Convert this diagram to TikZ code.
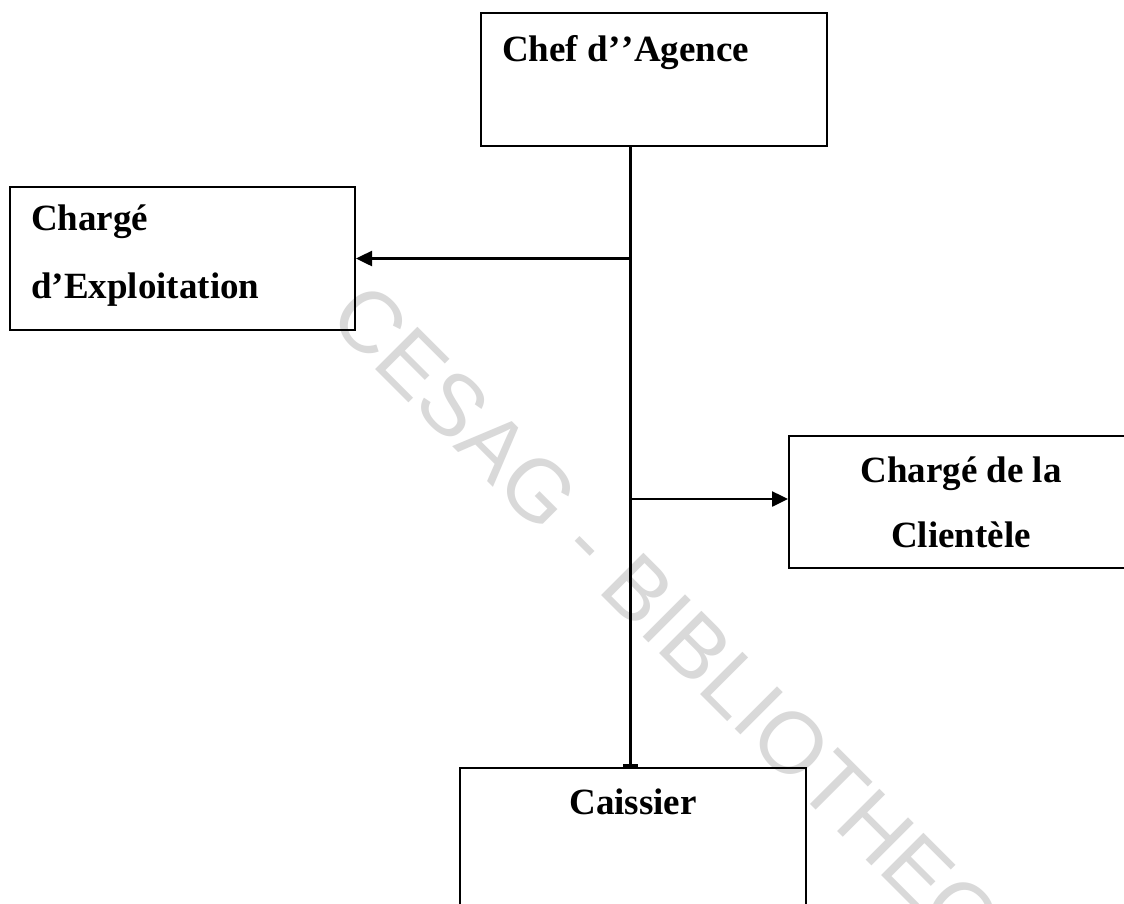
\documentclass[tikz,border=0pt]{standalone}
\usepackage{fontspec}
\setmainfont{Liberation Serif}
\newfontfamily\wmfont{Liberation Sans}
\usetikzlibrary{arrows.meta}
\begin{document}
\begin{tikzpicture}[x=1pt,y=-1pt,
  box/.style={draw, line width=2pt, inner sep=0pt, fill=none},
  title/.style={font=\fontsize{37}{44}\selectfont\bfseries, inner sep=0pt},
  branch/.style={line width=2.5pt, -{Triangle[length=16pt,width=15pt]}},
  trunkline/.style={line width=3pt, -{Rectangle[length=3.5pt,width=15pt]}},
  watermark/.style={font=\fontsize{87}{90}\wmfont, text=black!15, inner sep=0pt}]
  \useasboundingbox (0,0) rectangle (1124,903);
  \clip (0,0) rectangle (1124,903);
  \fill[white] (0,0) rectangle (1124,903);

  % library stamp across the page
  \node[watermark, rotate=-45, anchor=base west] (stamp) at (326,320) {CESAG - BIBLIOTHEQUE};

  % organisation boxes
  \node[box, minimum width=346pt, minimum height=133pt] (chef) at (654,79) {};
  \node[box, minimum width=345pt, minimum height=143pt] (exploit) at (182.5,258.5) {};
  \node[box, minimum width=341pt, minimum height=132pt] (client) at (959.5,502) {};
  \node[box, minimum width=346pt, minimum height=162pt] (caisse) at (633,849) {};

  % box titles
  \node[title, anchor=base west] (tchef) at (502,61) {Chef d’\kern1.5pt’Agence};
  \node[title, anchor=base west] (texp1) at (31,230) {Chargé};
  \node[title, anchor=base west] (texp2) at (31,298) {d’Exploitation};
  \node[title, anchor=base] (tcli1) at (961,482) {Chargé de la};
  \node[title, anchor=base] (tcli2) at (961,547) {Clientèle};
  \node[title, anchor=base] (tcai) at (633,814) {Caissier};

  % hierarchy links
  \coordinate (trunk) at (630,0);
  \draw[trunkline] (chef.south -| trunk) -- (caisse.north -| trunk);
  \draw[branch] (trunk |- exploit.east) -- (exploit.east);
  \draw[branch] ([yshift=3pt]client.west -| trunk) -- ([yshift=3pt]client.west);
\end{tikzpicture}
\end{document}
